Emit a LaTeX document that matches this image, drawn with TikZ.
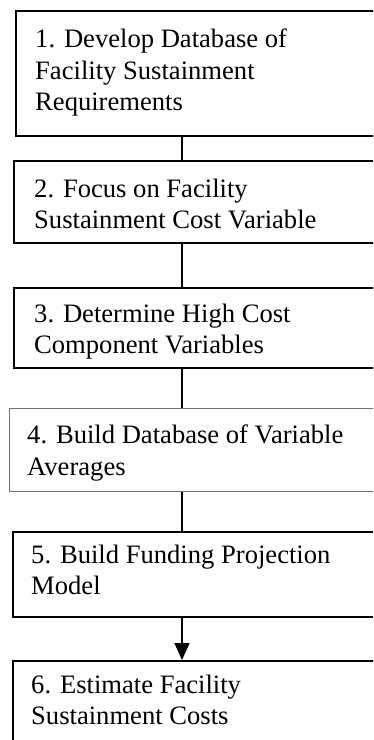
\documentclass[tikz,border=0pt]{standalone}
\usepackage{fontspec}
\setmainfont{Liberation Serif}
\usetikzlibrary{arrows.meta}
\begin{document}
\begin{tikzpicture}[x=1pt,y=-1pt,
  stepbox/.style={draw=black,line width=1.6pt,rectangle,anchor=north west,inner sep=0pt,minimum width=380pt},
  greybox/.style={stepbox,draw=black!55,line width=1.1pt},
  steptext/.style={anchor=north west,inner sep=0pt,align=left,font=\fontsize{26.6}{31.5}\selectfont},
  link/.style={draw=black,line width=1.5pt},
]
\useasboundingbox (0,0) rectangle (373,740);
\clip (0,0) rectangle (373,740);
\coordinate (cx) at (182,0);
\node[stepbox,minimum height=125pt] (b1) at (15,10) {};
\node[stepbox,minimum height=82pt] (b2) at (13,160) {};
\node[stepbox,minimum height=80pt] (b3) at (13,287) {};
\node[greybox,minimum height=83pt] (b4) at (9,408) {};
\node[stepbox,minimum height=85pt] (b5) at (12,531) {};
\node[stepbox,minimum height=120pt] (b6) at (12,660) {};
\node[steptext] (t1) at (35,28.7) {1. Develop Database of\\Facility Sustainment\\Requirements};
\node[steptext] (t2) at (34,178.7) {2. Focus on Facility\\Sustainment Cost Variable};
\node[steptext] (t3) at (34,303.7) {3. Determine High Cost\\Component Variables};
\node[steptext] (t4) at (27,424.7) {4. Build Database of Variable\\Averages};
\node[steptext] (t5) at (31,544.7) {5. Build Funding Projection\\Model};
\node[steptext] (t6) at (31,674.7) {6. Estimate Facility\\Sustainment Costs};
\draw[link] (b1.south -| cx) -- (b2.north -| cx);
\draw[link] (b2.south -| cx) -- (b3.north -| cx);
\draw[link] (b3.south -| cx) -- (b4.north -| cx);
\draw[link] (b4.south -| cx) -- (b5.north -| cx);
\draw[link,-{Triangle[length=17pt,width=15pt]}] (b5.south -| cx) -- (b6.north -| cx);
\end{tikzpicture}
\end{document}
